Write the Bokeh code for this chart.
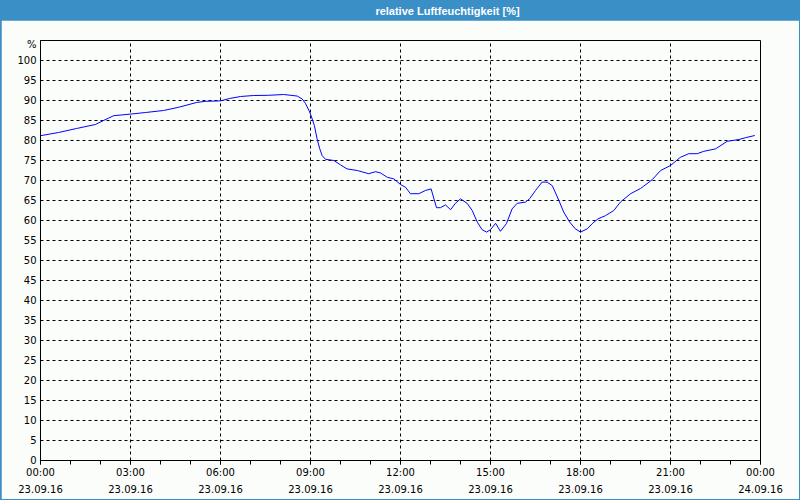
from bokeh.plotting import figure
from bokeh.models import FixedTicker, Range1d, Label
from bokeh.layouts import column
from bokeh.embed import file_html
from bokeh.resources import INLINE

# ---- data ----
hours = [0.0, 0.6, 1.2, 1.83, 2.1, 2.44, 3.0, 3.5, 4.1, 4.6, 5.2, 5.5, 6.0, 6.3,
         6.67, 7.1, 7.6, 8.1, 8.35, 8.56, 8.72, 8.83, 8.95, 9.02, 9.13, 9.22,
         9.31, 9.39, 9.5, 9.78, 10.0, 10.22, 10.56, 10.94, 11.17, 11.33, 11.56,
         11.78, 12.0, 12.17, 12.33, 12.61, 12.83, 13.02, 13.2, 13.33, 13.5,
         13.67, 13.83, 14.0, 14.22, 14.39, 14.56, 14.72, 14.87, 15.0, 15.17,
         15.33, 15.53, 15.72, 15.89, 16.17, 16.31, 16.5, 16.72, 16.89, 17.06,
         17.28, 17.44, 17.64, 17.83, 18.0, 18.22, 18.39, 18.58, 18.83, 19.11,
         19.33, 19.67, 20.0, 20.11, 20.39, 20.67, 21.0, 21.33, 21.61, 21.89,
         22.11, 22.5, 22.89, 23.28, 23.5, 23.81]
humidity = [81.2, 82.0, 83.0, 84.0, 85.0, 86.2, 86.6, 87.0, 87.5, 88.3, 89.5, 89.8,
            89.9, 90.5, 91.0, 91.25, 91.3, 91.5, 91.3, 91.1, 90.4, 89.3, 87.5,
            86.2, 83.7, 80.4, 77.9, 76.2, 75.3, 75.0, 73.9, 72.9, 72.5, 71.7,
            72.2, 71.9, 70.8, 70.4, 69.0, 68.3, 66.7, 66.7, 67.5, 67.9, 63.2,
            63.2, 63.9, 62.7, 64.3, 65.4, 64.3, 62.5, 59.6, 57.7, 57.1, 57.7,
            59.3, 57.3, 59.2, 62.9, 64.3, 64.6, 65.5, 67.5, 69.6, 69.6, 68.7,
            65.0, 62.1, 59.6, 57.9, 57.1, 57.9, 59.2, 60.4, 61.2, 62.5, 64.6,
            66.7, 68.0, 68.6, 70.2, 72.5, 73.75, 75.8, 76.7, 76.7, 77.3, 77.9,
            79.8, 80.25, 80.7, 81.25]

tick_hours = [0, 3, 6, 9, 12, 15, 18, 21, 24]
tick_times = ["00:00", "03:00", "06:00", "09:00", "12:00", "15:00", "18:00", "21:00", "00:00"]
tick_dates = ["23.09.16"] * 8 + ["24.09.16"]
minor_hours = list(range(0, 25))
y_ticks = list(range(0, 101, 5))
unit_pos = 104
unit_label = "%"
title_text = "relative Luftfeuchtigkeit [%]"

BLUE = "#3a8fc7"
BG = "#fbfdfb"
FONT = "DejaVu Sans"

# ---- title bar ----
head = figure(width=800, height=20, output_backend="svg", toolbar_location=None,
              x_range=Range1d(0, 1), y_range=Range1d(0, 1),
              x_axis_type=None, y_axis_type=None, min_border=0,
              background_fill_color=BLUE, border_fill_color=BLUE,
              outline_line_color=None)
head.grid.visible = False
head.add_layout(Label(x=408, y=10, x_units="screen", y_units="screen",
                      text=title_text, text_color="white", text_align="center",
                      text_baseline="middle", text_font="Liberation Sans",
                      text_font_size="11px", text_font_style="bold"))

# ---- main chart ----
p = figure(width=798, height=479, output_backend="svg", toolbar_location=None,
           x_range=Range1d(0, 24), y_range=Range1d(0, 105),
           min_border_left=39, min_border_right=39, min_border_top=20,
           min_border_bottom=39, background_fill_color=BG, border_fill_color=BG,
           outline_line_color="black", margin=(0, 1, 1, 1))

p.line(hours, humidity, line_color="#0000ff", line_width=1)

xa = p.xaxis[0]
xa.ticker = FixedTicker(ticks=tick_hours, minor_ticks=minor_hours)
xa.major_label_overrides = {h: f"{t}\n{d}" for h, t, d in zip(tick_hours, tick_times, tick_dates)}
xa.major_tick_out = 4
xa.major_tick_in = 0
xa.minor_tick_out = 4
xa.minor_tick_in = 0
xa.major_label_standoff = 2
xa.major_label_text_font = FONT
xa.major_label_text_font_size = "10px"
xa.major_label_text_color = "black"
xa.major_label_text_line_height = 1.6
xa.axis_line_color = "black"
xa.major_tick_line_color = "black"
xa.minor_tick_line_color = "black"

ya = p.yaxis[0]
ya.ticker = FixedTicker(ticks=y_ticks + [unit_pos])
ya.major_label_overrides = {unit_pos: unit_label}
ya.major_tick_out = 0
ya.major_tick_in = 0
ya.minor_tick_out = 0
ya.minor_tick_in = 0
ya.major_label_standoff = 4
ya.major_label_text_font = FONT
ya.major_label_text_font_size = "10px"
ya.major_label_text_color = "black"
ya.axis_line_color = "black"

p.xgrid.ticker = FixedTicker(ticks=tick_hours[1:-1])
p.ygrid.ticker = FixedTicker(ticks=y_ticks[1:])
for g in (p.xgrid[0], p.ygrid[0]):
    g.grid_line_color = "black"
    g.grid_line_dash = "3 3"
    g.grid_line_width = 1

layout = column(head, p, spacing=0, styles={"background-color": BLUE})

html = file_html(layout, INLINE)
html = html.replace("</head>", "<style>html,body{margin:0;padding:0;}</style></head>", 1)
open("out.html", "w").write(html)
